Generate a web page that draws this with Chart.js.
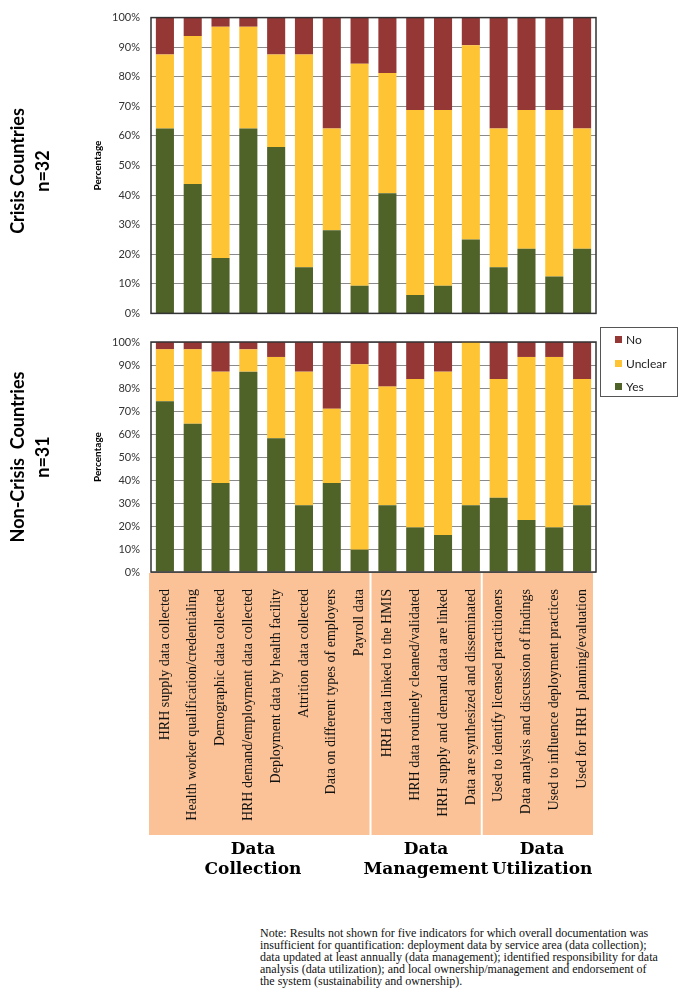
<!DOCTYPE html>
<html>
<head>
<meta charset="utf-8">
<script src="https://cdn.jsdelivr.net/npm/chart.js@4.4.1/dist/chart.umd.min.js"></script>
<style>
  body { margin: 0; background: #fff; width: 685px; height: 1000px; position: relative; overflow: hidden; }
  canvas { position: absolute; left: 0; }
  .side { position: absolute; width: 200px; height: 50px; text-align: center;
          font: bold 18px Lato, sans-serif; line-height: 25px; color: #000;
          transform: rotate(-90deg); transform-origin: center; }
  .group { position: absolute; width: 160px; text-align: center;
           font: bold 17px "DejaVu Serif", serif; line-height: 20px; color: #000; }
  .legend { position: absolute; left: 600px; top: 327px; width: 78px; height: 70px;
            border: 1px solid #555; box-sizing: border-box; font: 12px Lato, sans-serif; color: #222; }
  .legend div { position: absolute; left: 14px; }
  .legend span { display: inline-block; width: 7px; height: 7px; margin-right: 4px; vertical-align: 1px; }
  .note { position: absolute; left: 260px; top: 927px; font: 12px "Liberation Serif", serif; line-height: 12px; color: #111; white-space: nowrap; }
</style>
</head>
<body>
<canvas id="crisis" width="685" height="331" style="top:0"></canvas>
<canvas id="noncrisis" width="685" height="520" style="top:320px"></canvas>

<div class="side" style="left:-70px; top:146px;">Crisis Countries<br>n=32</div>
<div class="side" style="left:-70px; top:432px;">Non-Crisis&nbsp; Countries<br>n=31</div>

<div class="legend">
  <div style="top:4px"><span style="background:#953735"></span>No</div>
  <div style="top:28px"><span style="background:#FFC433"></span>Unclear</div>
  <div style="top:51px"><span style="background:#4F6228"></span>Yes</div>
</div>

<div class="group" style="left:173px; top:838px;">Data<br>Collection</div>
<div class="group" style="left:346px; top:838px;">Data<br>Management</div>
<div class="group" style="left:462px; top:838px;">Data<br>Utilization</div>

<div class="note">Note: Results not shown for five indicators for which overall documentation was<br>insufficient for quantification: deployment data by service area (data collection);<br>data updated at least annually (data management); identified responsibility for data<br>analysis (data utilization); and local ownership/management and endorsement of<br>the system (sustainability and ownership).</div>

<script>
/* ── DATA ─────────────────────────────────────────────── */
const categories = [
  'HRH supply data collected',
  'Health worker qualification/credentialing',
  'Demographic data collected',
  'HRH demand/employment data collected',
  'Deployment data by health facility',
  'Attrition data collected',
  'Data on different types of employers',
  'Payroll data',
  'HRH data linked to the HMIS',
  'HRH data routinely cleaned/validated',
  'HRH supply and demand data are linked',
  'Data are synthesized and disseminated',
  'Used to identify licensed practitioners',
  'Data analysis and discussion of findings',
  'Used to influence deployment practices',
  'Used for HRH  planning/evaluation'
];

// Crisis countries, n=32
const crisisYes     = [62.5, 43.75, 18.75, 62.5, 56.25, 15.625, 28.125, 9.375, 40.625, 6.25, 9.375, 25, 15.625, 21.875, 12.5, 21.875];
const crisisUnclear = [25, 50, 78.125, 34.375, 31.25, 71.875, 34.375, 75, 40.625, 62.5, 59.375, 65.625, 46.875, 46.875, 56.25, 40.625];
const crisisNo      = [12.5, 6.25, 3.125, 3.125, 12.5, 12.5, 37.5, 15.625, 18.75, 31.25, 31.25, 9.375, 37.5, 31.25, 31.25, 37.5];

// Non-crisis countries, n=31
const nonCrisisYes     = [74.2, 64.5, 38.7, 87.1, 58.1, 29.0, 38.7, 9.7, 29.0, 19.4, 16.1, 29.0, 32.3, 22.6, 19.4, 29.0];
const nonCrisisUnclear = [22.6, 32.3, 48.4, 9.7, 35.4, 58.1, 32.3, 80.6, 51.6, 64.5, 71.0, 71.0, 51.6, 70.9, 74.1, 54.9];
const nonCrisisNo      = [3.2, 3.2, 12.9, 3.2, 6.5, 12.9, 29.0, 9.7, 19.4, 16.1, 12.9, 0, 16.1, 6.5, 6.5, 16.1];

const yTicks = [0, 10, 20, 30, 40, 50, 60, 70, 80, 90, 100];
const groupEnds = [7, 11];   // last category index of each group but the last

const COLORS = { yes: '#4F6228', unclear: '#FFC433', no: '#953735' };

/* ── PLUGINS ──────────────────────────────────────────── */
const framePlugin = {
  id: 'frame',
  afterDraw(chart) {
    const a = chart.chartArea, ctx = chart.ctx;
    ctx.save();
    ctx.strokeStyle = '#333';
    ctx.lineWidth = 1.5;
    ctx.strokeRect(a.left, a.top, a.right - a.left, a.bottom - a.top);
    ctx.restore();
  }
};

const labelBoxPlugin = {
  id: 'labelBox',
  beforeDraw(chart) {
    const a = chart.chartArea, ctx = chart.ctx, xs = chart.scales.x;
    ctx.save();
    ctx.fillStyle = '#FAC296';
    ctx.fillRect(a.left - 2, a.bottom + 1, a.right - a.left - 1, 262);
    ctx.strokeStyle = '#fff';
    ctx.lineWidth = 2;
    groupEnds.forEach(i => {
      const x = (xs.getPixelForTick(i) + xs.getPixelForTick(i + 1)) / 2 - 3;
      ctx.beginPath();
      ctx.moveTo(x, a.bottom + 1);
      ctx.lineTo(x, a.bottom + 263);
      ctx.stroke();
    });
    ctx.restore();
  }
};

/* ── CHART BUILDER ────────────────────────────────────── */
function renderPanel(canvasId, yes, unclear, no, showLabels, padTop, padBottom) {
  return new Chart(document.getElementById(canvasId), {
    type: 'bar',
    data: {
      labels: categories,
      datasets: [
        { label: 'Yes',     data: yes,     backgroundColor: COLORS.yes },
        { label: 'Unclear', data: unclear, backgroundColor: COLORS.unclear },
        { label: 'No',      data: no,      backgroundColor: COLORS.no }
      ]
    },
    options: {
      responsive: false,
      animation : false,
      datasets  : { bar: { barPercentage: 0.65, categoryPercentage: 1, borderWidth: 0 } },
      layout    : { padding: { left: 88, right: 89, top: padTop, bottom: padBottom } },
      scales: {
        x: {
          stacked: true,
          display: showLabels,
          grid   : { display: false },
          border : { display: false },
          ticks  : {
            autoSkip: false, minRotation: 90, maxRotation: 90, padding: 9,
            color: '#111', font: { family: 'Liberation Serif', size: 14 }
          },
          afterFit: s => { s.height = showLabels ? 268 : 0; }
        },
        y: {
          stacked: true,
          min: 0, max: 100,
          afterBuildTicks: s => { s.ticks = yTicks.map(v => ({ value: v })); },
          grid  : { color: '#8a8a8a', lineWidth: 1, drawTicks: false },
          border: { display: false },
          ticks : { padding: 11, color: '#333', font: { family: 'Lato', size: 11 }, callback: v => v + '%' },
          title : { display: true, text: 'Percentage', color: '#000', padding: { top: 4, bottom: 0 },
                    font: { family: 'Lato', size: 10, weight: 'bold' } },
          afterFit: s => { s.width = 63; }
        }
      },
      plugins: { legend: { display: false }, tooltip: { enabled: false } }
    },
    plugins: showLabels ? [labelBoxPlugin, framePlugin] : [framePlugin]
  });
}

renderPanel('crisis', crisisYes, crisisUnclear, crisisNo, false, 16, 1);
renderPanel('noncrisis', nonCrisisYes, nonCrisisUnclear, nonCrisisNo, true, 22, 0);
</script>
</body>
</html>
